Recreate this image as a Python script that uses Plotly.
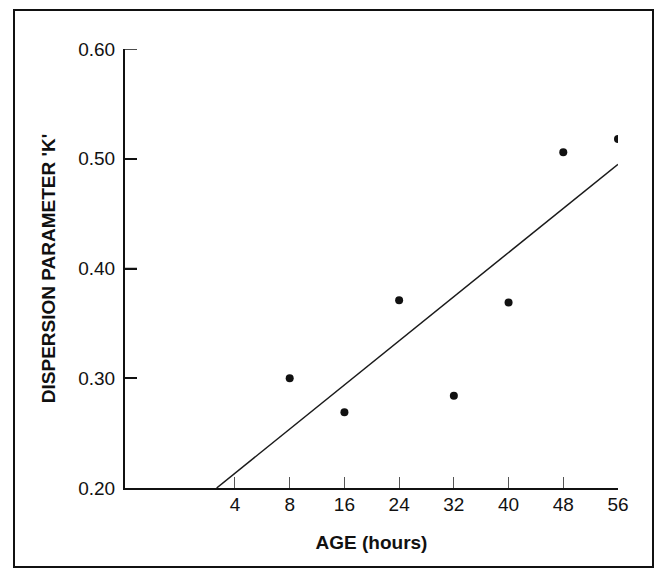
import plotly.graph_objects as go

# Tick labels on the (evenly spaced) age axis
age_ticks = [4, 8, 16, 24, 32, 40, 48, 56]
# Observed data
ages = [8, 16, 24, 32, 40, 48, 56]
k_values = [0.300, 0.269, 0.371, 0.284, 0.369, 0.506, 0.518]
# Fitted line end points (axis position, K)
fit_pos = [-0.335, 7.0]
fit_k = [0.200, 0.495]
# Y ticks
y_ticks = [0.20, 0.30, 0.40, 0.50, 0.60]

tick_pos = list(range(len(age_ticks)))
point_pos = [age_ticks.index(a) for a in ages]

fig = go.Figure()
fig.add_trace(go.Scatter(x=fit_pos, y=fit_k, mode="lines",
                         line=dict(color="#1a1a1a", width=1.5),
                         hoverinfo="skip", showlegend=False))
fig.add_trace(go.Scatter(x=point_pos, y=k_values, mode="markers",
                         marker=dict(color="#111111", size=8),
                         customdata=ages,
                         hovertemplate="Age %{customdata} h<br>K %{y:.3f}<extra></extra>",
                         showlegend=False))

L, R, T, B = 125, 39, 49, 81
W, H = 657, 569
pw, ph = W - L - R, H - T - B

shapes = [dict(type="rect", xref="paper", yref="paper",
               x0=(14 - L) / pw, x1=(653 - L) / pw,
               y0=(H - B - 567) / ph, y1=(H - B - 10) / ph,
               line=dict(color="#111111", width=2))]
# inward-pointing y tick marks at each labelled value
for v in y_ticks[1:]:
    shapes.append(dict(type="line", xref="paper", yref="y",
                       x0=0, x1=12 / pw, y0=v, y1=v,
                       line=dict(color="#111111", width=1.5)))

fig.update_layout(
    width=W, height=H,
    margin=dict(l=L, r=R, t=T, b=B, autoexpand=False),
    paper_bgcolor="white", plot_bgcolor="white",
    font=dict(family="Liberation Sans, Arial, sans-serif", color="#111111"),
    xaxis=dict(
        range=[-2.01, 7.0], tickvals=tick_pos, ticktext=[str(a) for a in age_ticks],
        showgrid=False, zeroline=False, showline=True, linecolor="#111111", linewidth=2,
        ticks="inside", ticklen=11, tickwidth=1, tickcolor="#555555",
        tickfont=dict(size=19), ticklabelstandoff=-2, automargin=False,
        title=dict(text="<b>AGE (hours)</b>", font=dict(size=19), standoff=22),
    ),
    yaxis=dict(
        range=[0.2, 0.6], tickmode="array", tickvals=y_ticks,
        ticktext=[f"{v:.2f}" for v in y_ticks],
        showgrid=False, zeroline=False, showline=True, linecolor="#111111", linewidth=2,
        ticks="inside", ticklen=12, tickwidth=1.5, tickcolor="#111111",
        tickfont=dict(size=19), ticklabelstandoff=4, automargin=False,
        title=dict(text="<b>DISPERSION PARAMETER 'K'</b>", font=dict(size=19), standoff=18),
    ),
    shapes=shapes,
)

fig.write_html("out.html", config={"displayModeBar": False},
               post_script="document.body.style.margin='0';document.body.style.overflow='hidden';")
